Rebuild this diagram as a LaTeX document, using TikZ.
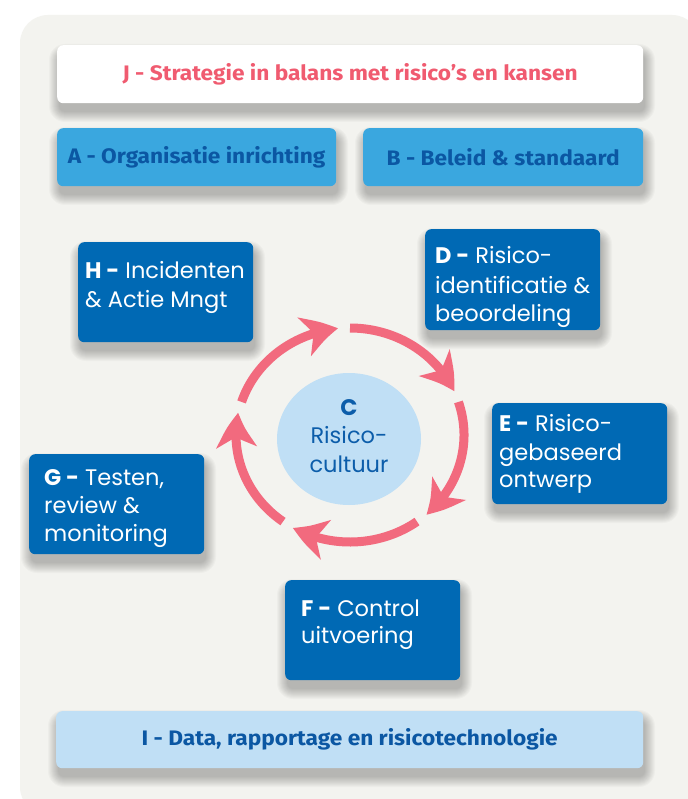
\documentclass[tikz,border=0pt]{standalone}
\usepackage{fontspec}
\setmainfont{Poppins}
\newfontfamily\topfont[FakeStretch=1.08]{Fira Sans}
\usetikzlibrary{arrows.meta,bending,shapes.geometric}
\definecolor{panel}{HTML}{F3F3EF}
\definecolor{pinkc}{HTML}{F26A7E}
\definecolor{jtext}{HTML}{F05B70}
\definecolor{midblue}{HTML}{3AA7DF}
\definecolor{navytext}{HTML}{0B57A3}
\definecolor{ctext}{HTML}{0C5DAA}
\definecolor{darkbox}{HTML}{0069B4}
\definecolor{paleblue}{HTML}{C0DFF5}
\newcommand\boxshadow[4]{%
  \foreach \i in {0,...,10} {
    \fill[black, opacity=0.022, rounded corners={6+\i}]
      ({#1-\i+2},{#2-\i+9}) rectangle ({#3+\i+2},{#4+\i+9});
  }%
}
\begin{document}
\begin{tikzpicture}[x=1pt,y=-1pt,
  card/.style={rounded corners=6pt, inner sep=0pt, anchor=north west},
  toplabel/.style={font=\topfont\bfseries\fontsize{21}{24}\selectfont},
  darkcard/.style={card, fill=darkbox},
  boxline/.style={anchor=base west, inner sep=0pt, text=white,
    font=\fontsize{22.5}{28}\selectfont},
  cline/.style={anchor=base, inner sep=0pt, text=ctext,
    font=\fontsize{22.5}{28}\selectfont},
  ring/.style={draw=pinkc, line width=9pt,
    -{Stealth[length=35pt, width=40pt, inset=10pt, bend]}}
]
\useasboundingbox (0,0) rectangle (687,799);
\fill[white] (0,0) rectangle (687,799);
\fill[panel, rounded corners=28pt] (20,15) rectangle (700,815);

% shadows
\boxshadow{57}{45}{643}{103}
\boxshadow{57}{128}{336}{186}
\boxshadow{363}{128}{643}{186}
\boxshadow{56}{711}{643}{768}
\boxshadow{78}{242}{253}{342}
\boxshadow{425}{229}{600}{330}
\boxshadow{492}{403}{667}{504}
\boxshadow{29}{454}{204}{554}
\boxshadow{285}{580}{460}{680}

% top and bottom wide boxes
\node[card, fill=white, minimum width=586pt, minimum height=58pt,
      toplabel, text=jtext] (J) at (57,45) {J - Strategie in balans met risico’s en kansen};
\node[card, fill=midblue, minimum width=279pt, minimum height=58pt,
      toplabel, text=navytext] (A) at (57,128) {A - Organisatie inrichting};
\node[card, fill=midblue, minimum width=280pt, minimum height=58pt,
      toplabel, text=navytext] (B) at (363,128) {B - Beleid \& standaard};
\node[card, fill=paleblue, minimum width=587pt, minimum height=57pt,
      toplabel, text=navytext] (I) at (56,711) {I - Data, rapportage en risicotechnologie};

% dark boxes
\node[darkcard, minimum width=175pt, minimum height=100pt] (H) at (78,242) {};
\node[darkcard, minimum width=175pt, minimum height=101pt] (D) at (425,229) {};
\node[darkcard, minimum width=175pt, minimum height=101pt] (E) at (492,403) {};
\node[darkcard, minimum width=175pt, minimum height=100pt] (G) at (29,454) {};
\node[darkcard, minimum width=175pt, minimum height=100pt] (F) at (285,580) {};

\node[boxline] (H1) at (85,278) {\textbf{H -} Incidenten};
\node[boxline] (H2) at (85,307) {\& Actie Mngt};

\node[boxline] (D1) at (435,264) {\textbf{D -} Risico-};
\node[boxline] (D2) at (435,293) {identificatie \&};
\node[boxline] (D3) at (435,321) {beoordeling};

\node[boxline] (E1) at (499,431) {\textbf{E -} Risico-};
\node[boxline] (E2) at (499,460) {gebaseerd};
\node[boxline] (E3) at (499,487) {ontwerp};

\node[boxline] (G1) at (44,485) {\textbf{G -} Testen,};
\node[boxline] (G2) at (44,513) {review \&};
\node[boxline] (G3) at (44,541) {monitoring};

\node[boxline] (F1) at (301,616) {\textbf{F -} Control};
\node[boxline] (F2) at (301,643) {uitvoering};

% centre circle
\node[ellipse, fill=paleblue, minimum width=144pt, minimum height=132pt, inner sep=0pt] (C) at (349,439) {};
\node[cline] (C1) at (349,415) {\textbf{C}};
\node[cline] (C2) at (349,443) {Risico-};
\node[cline] (C3) at (349,472) {cultuur};

% ring of arrows
\coordinate (rc) at (350,435);
\foreach \s in {-90,-18,54,126,198} {
  \draw[ring] ([shift={(\s:114 and 107)}]rc) arc[start angle=\s, end angle=\s+66, x radius=114, y radius=107];
}
\end{tikzpicture}
\end{document}
